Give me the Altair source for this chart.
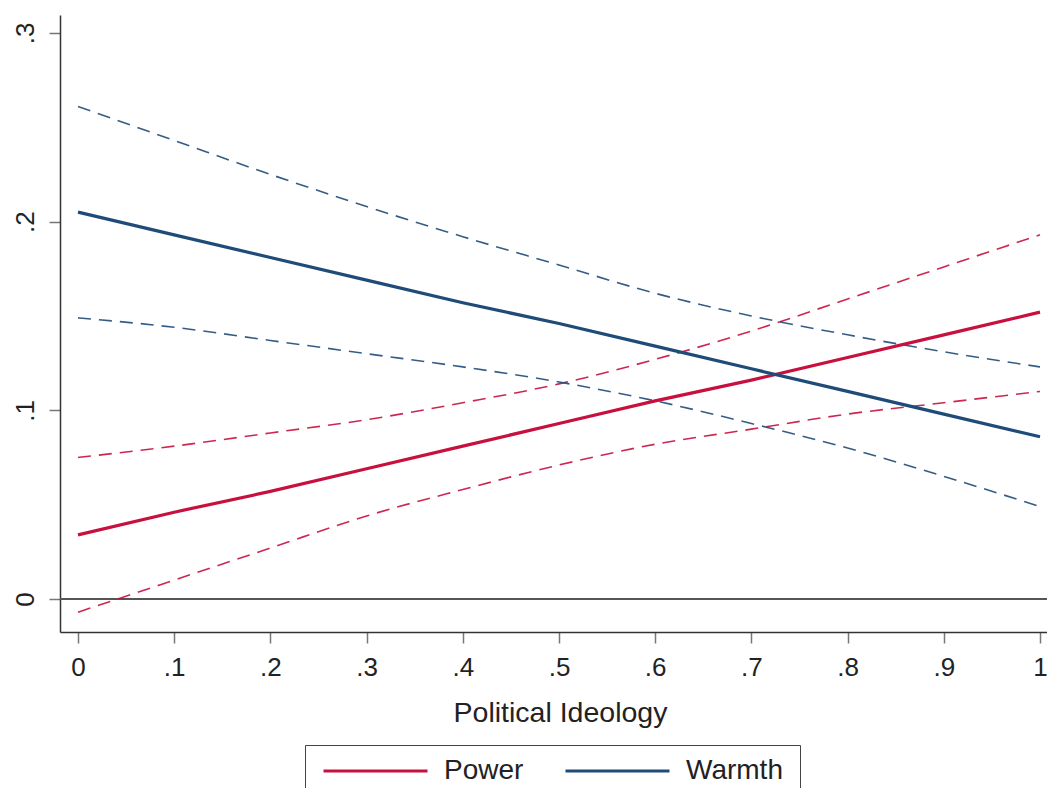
import altair as alt
import pandas as pd

# ---- data ----
x_vals = [0.0, 0.1, 0.2, 0.3, 0.4, 0.5, 0.6, 0.7, 0.8, 0.9, 1.0]

power_mean = [0.034, 0.046, 0.057, 0.069, 0.081, 0.093, 0.105, 0.116, 0.128, 0.140, 0.152]
power_upper = [0.075, 0.081, 0.088, 0.095, 0.104, 0.114, 0.127, 0.142, 0.159, 0.176, 0.193]
power_lower = [-0.007, 0.010, 0.027, 0.044, 0.058, 0.071, 0.082, 0.090, 0.098, 0.104, 0.110]

warmth_mean = [0.205, 0.193, 0.181, 0.169, 0.157, 0.146, 0.134, 0.122, 0.110, 0.098, 0.086]
warmth_upper = [0.261, 0.243, 0.225, 0.208, 0.192, 0.177, 0.162, 0.150, 0.140, 0.131, 0.123]
warmth_lower = [0.149, 0.144, 0.137, 0.130, 0.123, 0.115, 0.105, 0.093, 0.080, 0.065, 0.049]

series_names = ["Power", "Warmth"]
x_ticks = [0.0, 0.1, 0.2, 0.3, 0.4, 0.5, 0.6, 0.7, 0.8, 0.9, 1.0]
y_ticks = [0.0, 0.1, 0.2, 0.3]
zero_line = [0.0]

RED = "#C8103E"
BLUE = "#1E4B78"
FONT = "Liberation Sans"

rows = []
for name, parts in [("Power", (power_mean, power_upper, power_lower)),
                    ("Warmth", (warmth_mean, warmth_upper, warmth_lower))]:
    for band, vals in zip(["mean", "upper", "lower"], parts):
        for xv, yv in zip(x_vals, vals):
            rows.append({"series": name, "band": band, "x": xv, "y": yv})
df = pd.DataFrame(rows)
df_zero = pd.DataFrame({"y": zero_line})

label_expr = "replace(format(datum.value, '.1~f'), '0.', '.')"

X = alt.X("x:Q",
          scale=alt.Scale(domain=[-0.01871, 1.00728], nice=False, zero=False),
          axis=alt.Axis(values=x_ticks, title="Political Ideology", labelExpr=label_expr,
                        labelPadding=11, titlePadding=18, labelFlush=False,
                        labelOverlap=False, titleX=500))
Y = alt.Y("y:Q",
          scale=alt.Scale(domain=[-0.0175, 0.3095], nice=False, zero=False),
          axis=alt.Axis(values=y_ticks, title=None, labelExpr=label_expr,
                        labelAngle=270, labelAlign="center", labelBaseline="alphabetic",
                        labelPadding=16, labelFlush=False, labelOverlap=False))

zero = alt.Chart(df_zero).mark_rule(color="#555555", strokeWidth=2).encode(y=Y)

ci_layers = []
for name, col in zip(series_names, [RED, BLUE]):
    ci_layers.append(
        alt.Chart(df).transform_filter(
            (alt.datum.series == name) & (alt.datum.band != "mean")
        ).mark_line(color=col, strokeWidth=1.6, strokeDash=[13, 8], interpolate="monotone",
                    opacity=0.9)
        .encode(x=X, y=Y, detail="band:N")
    )

means = alt.Chart(df).transform_filter(alt.datum.band == "mean").mark_line(
    strokeWidth=3.2
).encode(
    x=X, y=Y,
    color=alt.Color("series:N",
                    scale=alt.Scale(domain=series_names, range=[RED, BLUE]),
                    legend=alt.Legend(title=None, orient="none", legendX=245, legendY=730,
                                      direction="horizontal", symbolType="stroke",
                                      symbolSize=10816, symbolStrokeWidth=3,
                                      clipHeight=18,
                                      labelFontSize=28, labelFont=FONT, labelColor="#222222",
                                      labelOffset=15, columnPadding=40, padding=17,
                                      strokeColor="#444444", labelLimit=300))
)

chart = alt.layer(zero, *ci_layers, means).properties(
    width=987, height=617,
    autosize=alt.AutoSizeParams(type="none"),
    padding={"left": 52, "top": 7, "right": 0, "bottom": 156},
    background="white",
).configure_view(stroke=None).configure_axis(
    grid=False, domainColor="#333333", domainWidth=1.5,
    tickColor="#777777", tickWidth=1.5, tickSize=11,
    labelFont=FONT, labelFontSize=26, labelColor="#222222",
    titleFont=FONT, titleFontSize=28.5, titleFontWeight="normal", titleColor="#222222",
)

chart.save("out.html", embed_options={"renderer": "svg", "actions": False})
